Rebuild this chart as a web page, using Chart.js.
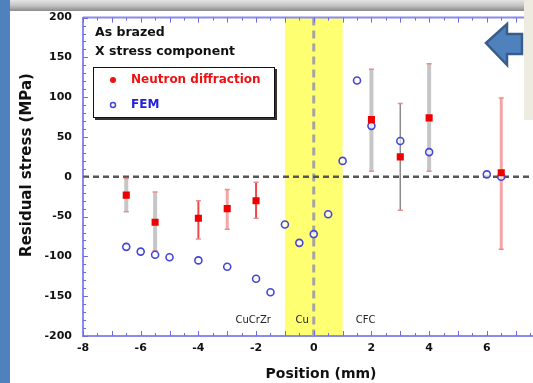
<!DOCTYPE html>
<html>
<head>
<meta charset="utf-8">
<script src="https://cdn.jsdelivr.net/npm/chart.js@4.4.1/dist/chart.umd.min.js"></script>
<style>
  body { margin: 0; overflow: hidden; background: #fff; }
  #wrap { position: relative; width: 533px; height: 383px; overflow: hidden; background: #fff; }
  #chart { position: absolute; left: 0; top: 0; }
  #strip { position: absolute; left: 0; top: 0; width: 10px; height: 383px; background: #4f81bd; }
  #header { position: absolute; left: 10px; top: 0; width: 523px; height: 11px;
            background: linear-gradient(#e4e4e4, #c4c4c4 50%, #8a8a8a); }
  #panel { position: absolute; left: 524px; top: 0; width: 9px; height: 120px; background: #eeebe0; }
  #arrow { position: absolute; left: 484px; top: 21px; }
</style>
</head>
<body>
<div id="wrap">
  <canvas id="chart" width="560" height="383"></canvas>
  <div id="strip"></div>
  <div id="header"></div>
  <div id="panel"></div>
  <svg id="arrow" width="42" height="48">
    <polygon points="2,22 23,3 23,13 38,13 38,33 23,33 23,44" fill="#4f81bd" stroke="#385d8a" stroke-width="2.5"/>
  </svg>
</div>
<script>
// neutron diffraction: position, stress, error bar ends
var ndX = [-6.5, -5.5, -4, -3, -2, 2, 3, 4, 6.5];
var ndY = [-23, -57, -52, -40, -30, 72, 25, 74, 5];
var ndLow = [-44, -93, -78, -66, -52, 7, -42, 7, -91];
var ndHigh = [-2, -19, -30, -16, -7, 135, 92, 142, 99];

// FEM results
var femX = [-6.5, -6, -5.5, -5, -4, -3, -2, -1.5, -1, -0.5, 0, 0.5, 1, 1.5, 2, 3, 4, 6, 6.5];
var femY = [-88, -94, -98, -101, -105, -113, -128, -145, -60, -83, -72, -47, 20, 121, 64, 45, 31, 3, 0];

// zone labels under the plot
var zoneNames = ['CuCrZr', 'Cu', 'CFC'];
var zoneX = [-2.1, -0.4, 1.8];

var legendNames = ['Neutron diffraction', 'FEM'];
var noteLines = ['As brazed', 'X stress component'];
var xTitle = 'Position (mm)';
var yTitle = 'Residual stress (MPa)';

// error bar look, one per neutron point
var barStyles = ['gray', 'gray', 'red', 'pink', 'red', 'gray', 'thin', 'gray', 'pink'];
var barLook = {
    gray: { color: '#c6c6c6', width: 4 },
    red: { color: '#ee4848', width: 2 },
    pink: { color: '#f5a5a5', width: 3 },
    thin: { color: '#8a8a8a', width: 1.5 }
};

const axisBlue = '#8a8af0';
const ctx = document.getElementById('chart');

const decor = {
    id: 'decor',
    beforeDraw(chart) {
        const c = chart.ctx, a = chart.chartArea, x = chart.scales.x;
        c.save();
        c.fillStyle = '#fff';
        c.fillRect(0, 0, chart.width, chart.height);
        c.fillStyle = '#ffff72';
        c.fillRect(x.getPixelForValue(-1), a.top, x.getPixelForValue(1) - x.getPixelForValue(-1), a.bottom - a.top);
        c.restore();
    },
    beforeDatasetsDraw(chart) {
        const c = chart.ctx, a = chart.chartArea, x = chart.scales.x, y = chart.scales.y;
        c.save();
        // zero lines
        c.setLineDash([8, 5]);
        c.strokeStyle = '#a4a4a4';
        c.lineWidth = 3;
        c.beginPath();
        c.moveTo(x.getPixelForValue(0), a.top);
        c.lineTo(x.getPixelForValue(0), a.bottom);
        c.stroke();
        c.setLineDash([6, 4]);
        c.strokeStyle = '#555';
        c.lineWidth = 2.5;
        c.beginPath();
        c.moveTo(a.left, y.getPixelForValue(0));
        c.lineTo(a.right, y.getPixelForValue(0));
        c.stroke();
        c.setLineDash([]);
        // error bars
        for (let i = 0; i < ndX.length; i++) {
            const look = barLook[barStyles[i]];
            const px = x.getPixelForValue(ndX[i]);
            const y1 = y.getPixelForValue(ndLow[i]);
            const y2 = y.getPixelForValue(ndHigh[i]);
            c.strokeStyle = look.color;
            c.lineWidth = look.width;
            c.beginPath();
            c.moveTo(px, y1);
            c.lineTo(px, y2);
            c.stroke();
            c.strokeStyle = '#f08a8a';
            c.lineWidth = 1.5;
            c.beginPath();
            c.moveTo(px - 2.5, y1); c.lineTo(px + 2.5, y1);
            c.moveTo(px - 2.5, y2); c.lineTo(px + 2.5, y2);
            c.stroke();
        }
        c.restore();
    },
    afterDraw(chart) {
        const c = chart.ctx, a = chart.chartArea, x = chart.scales.x, y = chart.scales.y;
        c.save();
        // top frame line
        c.strokeStyle = axisBlue;
        c.lineWidth = 2;
        c.beginPath();
        c.moveTo(a.left, a.top);
        c.lineTo(a.right, a.top);
        c.stroke();
        // inward ticks
        c.strokeStyle = '#6c6ce4';
        c.lineWidth = 1;
        c.beginPath();
        for (let v = -8; v <= 8; v += 0.5) {
            const px = Math.round(x.getPixelForValue(v)) + 0.5;
            const len = Number.isInteger(v) ? 5 : 3;
            c.moveTo(px, a.bottom); c.lineTo(px, a.bottom - len);
            c.moveTo(px, a.top); c.lineTo(px, a.top + len);
        }
        for (let v = -200; v <= 200; v += 10) {
            const py = Math.round(y.getPixelForValue(v)) + 0.5;
            const len = v % 50 === 0 ? 5 : 3;
            c.moveTo(a.left, py); c.lineTo(a.left + len, py);
        }
        c.stroke();

        // axis titles
        c.fillStyle = '#111';
        c.textBaseline = 'middle';
        c.textAlign = 'center';
        c.font = 'bold 14px "DejaVu Sans"';
        c.fillText(xTitle, 321, 374);
        c.save();
        c.translate(27, 165);
        c.rotate(-Math.PI / 2);
        c.font = 'bold 15px "DejaVu Sans"';
        c.fillText(yTitle, 0, 0);
        c.restore();

        // notes
        c.font = 'bold 12.5px "DejaVu Sans"';
        c.textAlign = 'left';
        c.fillText(noteLines[0], 95, 33);
        c.fillText(noteLines[1], 95, 52);

        // legend box
        c.fillStyle = '#333';
        c.fillRect(95, 69, 182, 51);
        c.fillStyle = '#fff';
        c.fillRect(93, 67, 182, 51);
        c.strokeStyle = '#111';
        c.lineWidth = 1;
        c.strokeRect(93.5, 67.5, 181, 50);
        c.fillStyle = '#ee1111';
        c.beginPath();
        c.arc(113, 80, 3, 0, Math.PI * 2);
        c.fill();
        c.strokeStyle = '#4444dd';
        c.lineWidth = 1.5;
        c.beginPath();
        c.arc(113, 105, 2.5, 0, Math.PI * 2);
        c.stroke();
        c.font = 'bold 12px "DejaVu Sans"';
        c.fillStyle = '#ee1111';
        c.fillText(legendNames[0], 131, 80);
        c.fillStyle = '#2222dd';
        c.fillText(legendNames[1], 131, 105);

        // zone labels
        c.font = '10px "DejaVu Sans"';
        c.fillStyle = '#222';
        c.textAlign = 'center';
        for (let i = 0; i < zoneNames.length; i++) {
            c.fillText(zoneNames[i], x.getPixelForValue(zoneX[i]), 320);
        }
        c.restore();
    }
};

new Chart(ctx, {
    type: 'scatter',
    data: {
        datasets: [{
            label: legendNames[0],
            data: ndX.map((v, i) => ({ x: v, y: ndY[i] })),
            pointStyle: 'rect',
            pointRadius: 5,
            backgroundColor: '#ee0000',
            borderColor: '#ee0000',
            borderWidth: 0
        }, {
            label: legendNames[1],
            data: femX.map((v, i) => ({ x: v, y: femY[i] })),
            pointStyle: 'circle',
            pointRadius: 3.5,
            backgroundColor: 'rgba(255,255,255,0.6)',
            borderColor: '#4646d8',
            borderWidth: 1.6
        }]
    },
    options: {
        responsive: false,
        animation: false,
        devicePixelRatio: 1,
        layout: {
            padding: { left: 0, right: 15.5, top: 14, bottom: 0 }
        },
        plugins: {
            legend: { display: false },
            tooltip: { enabled: false }
        },
        scales: {
            x: {
                type: 'linear',
                min: -8,
                max: 8,
                afterFit: (s) => { s.height = 47; },
                grid: { drawOnChartArea: false, drawTicks: false },
                border: { color: axisBlue, width: 2 },
                ticks: {
                    stepSize: 2,
                    padding: 6,
                    color: '#111',
                    font: { family: 'DejaVu Sans', size: 11, weight: 'bold' }
                }
            },
            y: {
                min: -200,
                max: 200,
                afterFit: (s) => { s.width = 83; },
                grid: { drawOnChartArea: false, drawTicks: false },
                border: { color: axisBlue, width: 2 },
                ticks: {
                    stepSize: 50,
                    padding: 11,
                    color: '#111',
                    font: { family: 'DejaVu Sans', size: 11, weight: 'bold' }
                }
            }
        }
    },
    plugins: [decor]
});
</script>
</body>
</html>
